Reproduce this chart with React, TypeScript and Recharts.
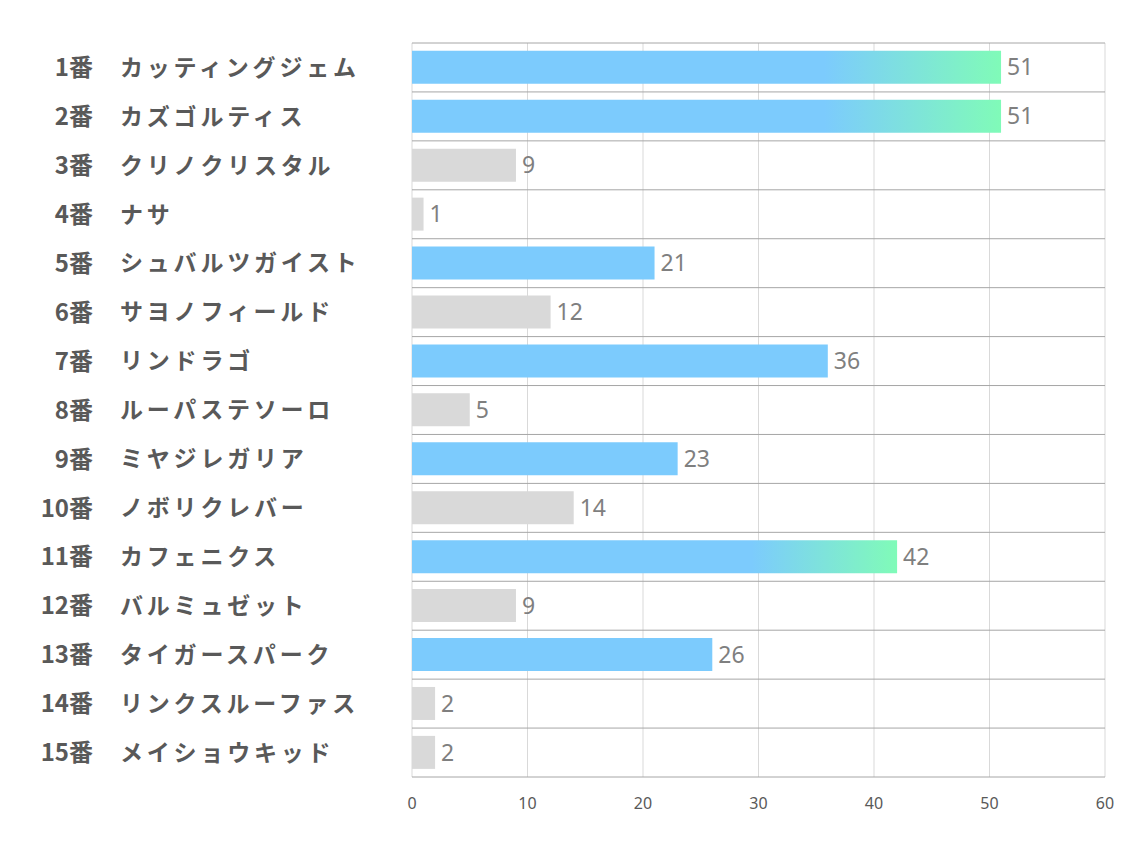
import React from "react";
import {
  BarChart,
  Bar,
  XAxis,
  YAxis,
  CartesianGrid,
  Cell,
  LabelList,
} from "recharts";

const horseNumbers = ["1番", "2番", "3番", "4番", "5番", "6番", "7番", "8番", "9番", "10番", "11番", "12番", "13番", "14番", "15番"];
const horseNames = [
  "カッティングジェム",
  "カズゴルティス",
  "クリノクリスタル",
  "ナサ",
  "シュバルツガイスト",
  "サヨノフィールド",
  "リンドラゴ",
  "ルーパステソーロ",
  "ミヤジレガリア",
  "ノボリクレバー",
  "カフェニクス",
  "バルミュゼット",
  "タイガースパーク",
  "リンクスルーファス",
  "メイショウキッド",
];
const scores = [51, 51, 9, 1, 21, 12, 36, 5, 23, 14, 42, 9, 26, 2, 2];
const xTicks = [0, 10, 20, 30, 40, 50, 60];

const data = horseNames.map((name, i) => ({
  key: horseNumbers[i] + "　" + name,
  num: horseNumbers[i],
  name,
  value: scores[i],
}));

// color rule: top scores get gradient, mid scores blue, low scores gray
const barFill = (v: number) => {
  if (v >= 40) return "url(#topGrad)";
  if (v >= 20) return "#7ccbfd";
  return "#d9d9d9";
};

const HorseTick = (props: any) => {
  const { y, payload } = props;
  const row = data[payload.index];
  return (
    <g>
      <text
        x={93}
        y={y}
        dy="0.36em"
        textAnchor="end"
        fontSize={24}
        fontWeight="bold"
        fill="#595959"
        fontFamily="'Noto Sans CJK JP', 'Noto Sans', sans-serif"
      >
        {row.num}
      </text>
      <text
        x={120}
        y={y}
        dy="0.36em"
        textAnchor="start"
        fontSize={23}
        fontWeight="bold"
        fill="#595959"
        letterSpacing={3.8}
        fontFamily="'Noto Sans CJK JP', sans-serif"
      >
        {row.name}
      </text>
    </g>
  );
};

export default function App() {
  return (
    <div style={{ position: "absolute", left: 0, top: 0, background: "#fff" }}>
      <BarChart
        width={1134}
        height={850}
        data={data}
        layout="vertical"
        margin={{ top: 43, right: 29, bottom: 33, left: 0 }}
        barCategoryGap="16%"
      >
        <defs>
          <linearGradient id="topGrad" x1="0" y1="0" x2="1" y2="0">
            <stop offset="0%" stopColor="#7ccbfd" />
            <stop offset="70%" stopColor="#7ccbfd" />
            <stop offset="100%" stopColor="#80fbb8" />
          </linearGradient>
        </defs>
        <CartesianGrid horizontal={false} stroke="#d9d9d9" />
        <CartesianGrid
          vertical={false}
          stroke="#a6a6a6"
          horizontalCoordinatesGenerator={({ offset }: any) =>
            data.concat(data[0]).map((_, i) => offset.top + (i * offset.height) / data.length)
          }
        />
        <XAxis
          type="number"
          domain={[0, 60]}
          ticks={xTicks}
          axisLine={false}
          tickLine={false}
          tickMargin={15}
          height={40}
          tick={{ fontSize: 16, fill: "#595959", fontFamily: "'Noto Sans', sans-serif" }}
        />
        <YAxis
          type="category"
          dataKey="key"
          width={412}
          axisLine={false}
          tickLine={false}
          interval={0}
          tick={<HorseTick />}
        />
        <Bar dataKey="value" isAnimationActive={false}>
          {data.map((d, i) => (
            <Cell key={i} fill={barFill(d.value)} />
          ))}
          <LabelList
            dataKey="value"
            position="right"
            offset={6}
            fill="#7f7f7f"
            fontSize={23}
            fontFamily="'Noto Sans', sans-serif"
          />
        </Bar>
      </BarChart>
    </div>
  );
}
